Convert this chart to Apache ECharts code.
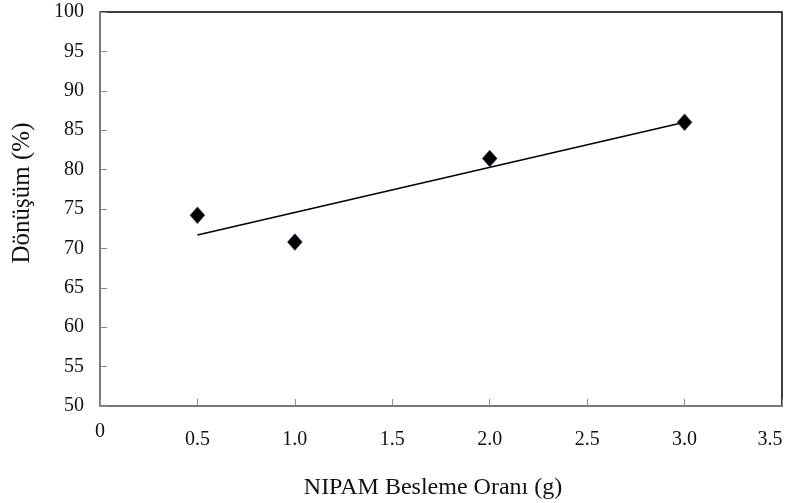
<!DOCTYPE html>
<html>
<head>
<meta charset="utf-8">
<script src="https://cdn.jsdelivr.net/npm/echarts@6/dist/echarts.min.js"></script>
<style>
  html, body { margin: 0; padding: 0; background: #fff; }
  #chart { width: 788px; height: 503px; }
</style>
</head>
<body>
<div id="chart"></div>
<script>
// measured points: NIPAM feed (g) vs conversion (%)
const feedAmounts = [0.5, 1.0, 2.0, 3.0];
const conversion = [74.2, 70.8, 81.4, 86.0];
// linear trend line end points as drawn
const trendX = [0.5, 3.0];
const trendY = [71.7, 86.0];

const fontFamily = "'Liberation Serif', 'DejaVu Serif', serif";
const axisGrey = "#8c8c8c";

const chart = echarts.init(document.getElementById("chart"), null, { renderer: "canvas" });

chart.setOption({
  animation: false,
  grid: {
    left: 100,
    right: 6,
    top: 12,
    bottom: 97,
    outerBoundsMode: "none",
    containLabel: false,
    show: true,
    borderColor: "#000",
    borderWidth: 1.5,
    backgroundColor: "#fff"
  },
  xAxis: {
    type: "value",
    min: 0,
    max: 3.5,
    interval: 0.5,
    axisLine: { lineStyle: { color: axisGrey, width: 1.5 } },
    axisTick: { inside: true, length: 7, lineStyle: { color: axisGrey } },
    splitLine: { show: false },
    axisLabel: {
      margin: 16,
      color: "#111",
      fontFamily: fontFamily,
      fontSize: 20,
      formatter: (v) => {
        if (v === 0) return "0";
        if (v === 3.5) return "{e|3.5}";
        return "{n|" + v.toFixed(1) + "}";
      },
      rich: {
        n: { fontFamily: fontFamily, fontSize: 20, color: "#111", padding: [8, 0, 0, 0] },
        e: { fontFamily: fontFamily, fontSize: 20, color: "#111", padding: [8, 24, 0, 0] }
      }
    }
  },
  yAxis: {
    type: "value",
    min: 50,
    max: 100,
    interval: 5,
    axisLine: { show: true, lineStyle: { color: axisGrey, width: 1.5 } },
    axisTick: { show: true, inside: true, length: 7, lineStyle: { color: axisGrey } },
    splitLine: { show: false },
    axisLabel: {
      margin: 16,
      color: "#111",
      fontFamily: fontFamily,
      fontSize: 20
    }
  },
  graphic: [
    {
      type: "text",
      x: 22,
      y: 193,
      rotation: Math.PI / 2,
      style: {
        text: "Dönüşüm (%)",
        fontFamily: fontFamily,
        fontSize: 25,
        fill: "#111",
        align: "center",
        verticalAlign: "middle"
      }
    },
    {
      type: "text",
      x: 433,
      y: 488,
      style: {
        text: "NIPAM Besleme Oranı (g)",
        fontFamily: fontFamily,
        fontSize: 24,
        fill: "#111",
        align: "center",
        verticalAlign: "middle"
      }
    }
  ],
  series: [
    {
      type: "line",
      data: trendX.map((x, i) => [x, trendY[i]]),
      showSymbol: false,
      lineStyle: { color: "#000", width: 1.6 },
      silent: true,
      z: 2
    },
    {
      type: "scatter",
      data: feedAmounts.map((x, i) => [x, conversion[i]]),
      symbol: "diamond",
      symbolSize: [15, 17],
      itemStyle: { color: "#000", opacity: 1, borderColor: "#4a6a96", borderWidth: 0.5 },
      z: 3
    }
  ]
});
</script>
</body>
</html>
